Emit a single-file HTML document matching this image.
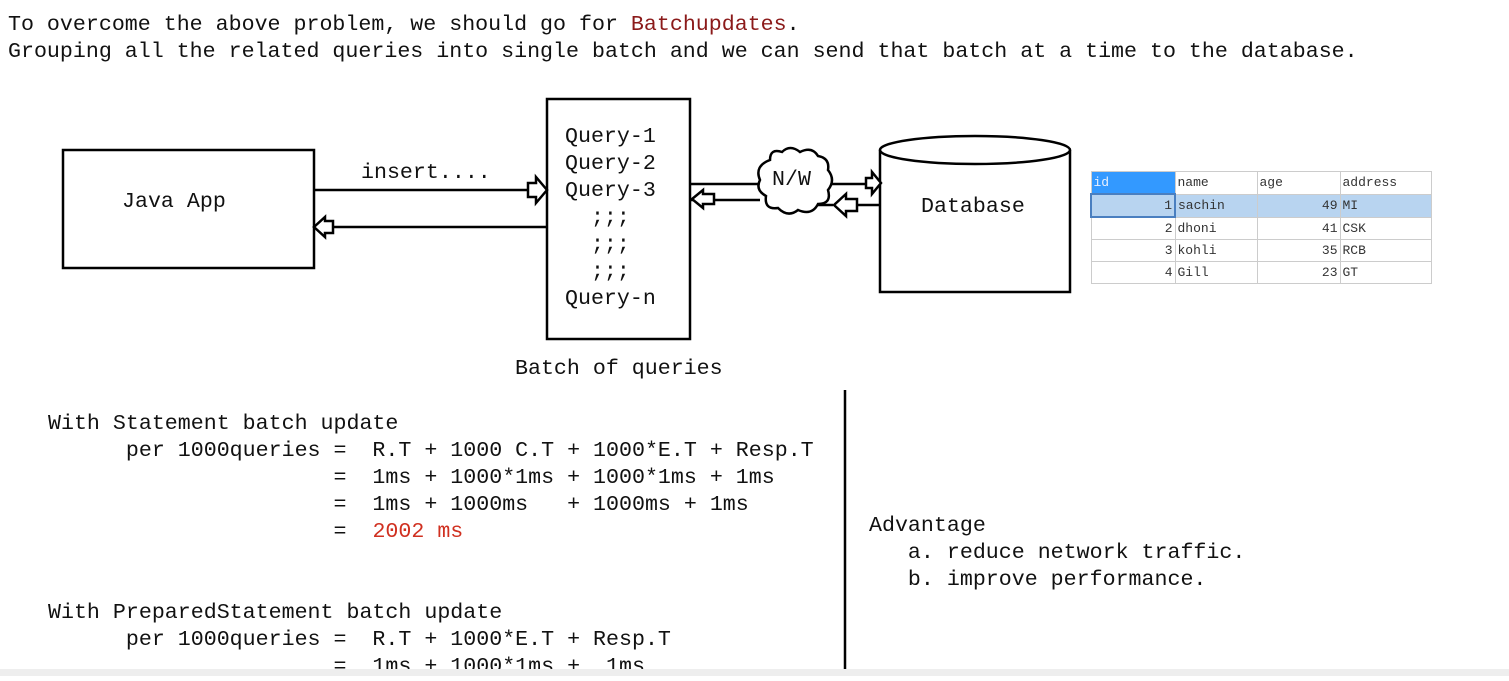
<!DOCTYPE html>
<html><head><meta charset="utf-8"><style>
body{margin:0;width:1509px;height:676px;background:#fff;overflow:hidden;position:relative;font-family:"Liberation Mono",monospace;}
.t{position:absolute;font-size:21.63px;line-height:27px;white-space:pre;color:#111;}
table{position:absolute;left:1090px;top:171px;border-collapse:collapse;font-family:"Liberation Mono",monospace;font-size:13px;color:#333;}
td{border:1px solid #ccc;height:21px;padding:0 2px;}
</style></head><body>
<div class="t" style="left:8px;top:12px">To overcome the above problem, we should go for <span style="color:#8b1a1a">Batchupdates</span>.</div>
<div class="t" style="left:8px;top:39px">Grouping all the related queries into single batch and we can send that batch at a time to the database.</div>

<svg style="position:absolute;left:0;top:0" width="1509" height="676">
<g fill="none" stroke="#000" stroke-width="2.5">
<rect x="63" y="150" width="251" height="118"/>
<rect x="547" y="99" width="143" height="240"/>
<path d="M880,150 L880,292 L1070,292 L1070,150"/>
<ellipse cx="975" cy="150" rx="95" ry="14" fill="#fff"/>
<line x1="314" y1="190" x2="528" y2="190"/>
<line x1="547" y1="227" x2="333" y2="227"/>
<line x1="690" y1="184" x2="866" y2="184"/>
<line x1="880" y1="205" x2="858" y2="205"/>
<line x1="833" y1="205" x2="806" y2="205"/>
<line x1="690" y1="200" x2="760" y2="200"/>
<line x1="845" y1="390" x2="845" y2="670"/>
</g>
<g fill="#fff" stroke="#000" stroke-width="2.5">
<path d="M528,183 L536,183 L536,177 L547,190 L536,203 L536,197 L528,197 Z"/>
<path d="M333,221 L325,221 L325,217 L314,227 L325,237 L325,233 L333,233 Z"/>
<path d="M866,178 L872,178 L872,172 L881,183 L872,194 L872,188 L866,188 Z"/>
<path d="M714,194 L703,194 L703,190 L692,199 L703,208 L703,204 L714,204 Z"/>
<path d="M857,199 L846,199 L846,194 L834,205 L846,216 L846,211 L857,211 Z"/>
<path d="M770,160 Q770,148 782,152 Q790,144 800,152 Q812,146 818,156 Q830,158 828,170 Q836,180 828,190 Q832,204 818,204 Q812,216 798,210 Q788,218 778,208 Q764,210 766,196 Q755,190 760,180 Q754,166 770,160 Z"/>
</g>
</svg>
<div class="t" style="left:122px;top:189px">Java App</div>
<div class="t" style="left:361px;top:160px">insert....</div>
<div class="t" style="left:565px;top:124px">Query-1
Query-2
Query-3
  ;;;
  ;;;
  ;;;
Query-n</div>
<div class="t" style="left:772px;top:167px">N/W</div>
<div class="t" style="left:921px;top:194px">Database</div>
<div class="t" style="left:515px;top:356px">Batch of queries</div>

<table>
<tr style="background:#fff"><td style="width:79px;background:#3399ff;color:#e8f0ff">id</td><td style="width:77px">name</td><td style="width:78px">age</td><td style="width:86px">address</td></tr>
<tr style="background:#b8d4f0"><td style="text-align:right;border:2px solid #4a7fc0">1</td><td>sachin</td><td style="text-align:right">49</td><td>MI</td></tr>
<tr><td style="text-align:right">2</td><td>dhoni</td><td style="text-align:right">41</td><td>CSK</td></tr>
<tr><td style="text-align:right">3</td><td>kohli</td><td style="text-align:right">35</td><td>RCB</td></tr>
<tr><td style="text-align:right">4</td><td>Gill</td><td style="text-align:right">23</td><td>GT</td></tr>
</table>

<div class="t" style="left:48px;top:411px">With Statement batch update
      per 1000queries =  R.T + 1000 C.T + 1000*E.T + Resp.T
                      =  1ms + 1000*1ms + 1000*1ms + 1ms
                      =  1ms + 1000ms   + 1000ms + 1ms
                      =  <span style="color:#d03020">2002 ms</span></div>
<div class="t" style="left:48px;top:600px">With PreparedStatement batch update
      per 1000queries =  R.T + 1000*E.T + Resp.T
                      =  1ms + 1000*1ms +  1ms</div>
<div class="t" style="left:869px;top:513px">Advantage
   a. reduce network traffic.
   b. improve performance.</div>
<div style="position:absolute;left:0;top:669px;width:1509px;height:7px;background:#eee"></div>
</body></html>
